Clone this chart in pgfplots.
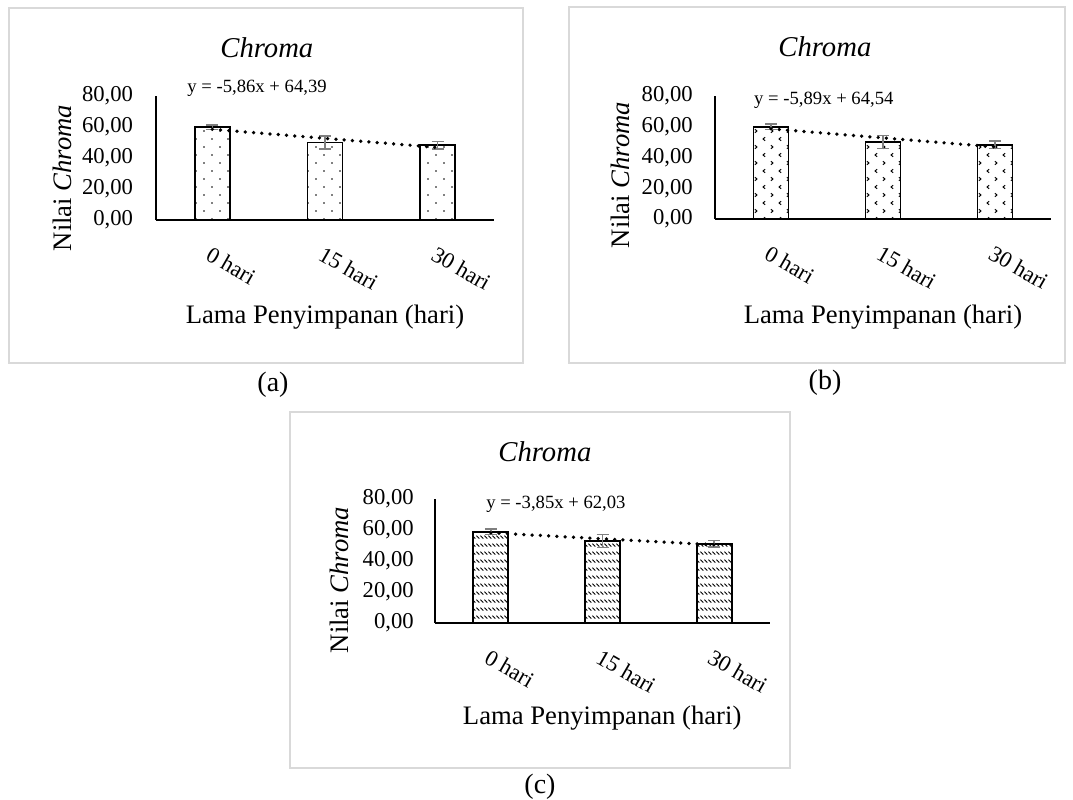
\documentclass[border=0pt]{standalone}
\usepackage{fontspec}
\setmainfont{Liberation Serif}
\usepackage{pgfplots}
\pgfplotsset{compat=1.18}
\usetikzlibrary{patterns}

\definecolor{framegray}{HTML}{D9D9D9}
\definecolor{errgray}{HTML}{7F7F7F}

% bar fills
\pgfdeclarepatternformonly{sparsedots}{\pgfqpoint{-1pt}{-1pt}}{\pgfqpoint{13pt}{13pt}}{\pgfqpoint{12pt}{12pt}}{%
  \pgfpathcircle{\pgfqpoint{3pt}{3pt}}{0.7pt}%
  \pgfpathcircle{\pgfqpoint{9pt}{9pt}}{0.7pt}%
  \pgfusepath{fill}}
\pgfdeclarepatternformonly{chevrons}{\pgfqpoint{-1pt}{-1pt}}{\pgfqpoint{13pt}{13pt}}{\pgfqpoint{12pt}{12pt}}{%
  \pgfsetlinewidth{0.75pt}%
  \pgfpathmoveto{\pgfqpoint{2.2pt}{10.3pt}}\pgfpathlineto{\pgfqpoint{3.7pt}{9pt}}\pgfpathlineto{\pgfqpoint{2.2pt}{7.7pt}}%
  \pgfpathmoveto{\pgfqpoint{9.8pt}{4.3pt}}\pgfpathlineto{\pgfqpoint{8.3pt}{3pt}}\pgfpathlineto{\pgfqpoint{9.8pt}{1.7pt}}%
  \pgfusepath{stroke}}
\pgfdeclarepatternformonly{diagdash}{\pgfqpoint{-1pt}{-1pt}}{\pgfqpoint{4pt}{7pt}}{\pgfqpoint{3pt}{6pt}}{%
  \pgfsetlinewidth{0.6pt}%
  \pgfpathmoveto{\pgfqpoint{0.3pt}{5.5pt}}\pgfpathlineto{\pgfqpoint{2.5pt}{3.3pt}}%
  \pgfusepath{stroke}}

\pgfplotsset{
  panel/.style={
    scale only axis, anchor=south west, clip=false,
    xmin=-0.5, xmax=2.5, ymin=0, ymax=80,
    axis lines=left, axis line style={-, line width=1.7pt, black},
    xtick={0,1,2}, xticklabels={0 hari,15 hari,30 hari},
    ytick={0,20,40,60,80},
    major tick length=0pt, xtick style={draw=none}, ytick style={draw=none},
    tick label style={font=\fontsize{17}{17}\selectfont},
    yticklabel style={anchor=east, inner sep=0pt},
    y tick label style={/pgf/number format/.cd, fixed, fixed zerofill, precision=2, use comma, assume math mode=true},
    xticklabel style={rotate=-30, anchor=north west, inner sep=0pt},
    xticklabel shift=19pt,
    title={\itshape Chroma},
    xlabel={Lama Penyimpanan (hari)},
    ylabel={Nilai \textit{Chroma}},
  },
  bars/.style={ybar, bar width=26.25pt, bar shift=0pt, draw=black, line width=1.4pt,
    pattern=#1, pattern color=black,
    error bars/.cd, y dir=both, y explicit,
    error bar style={line width=1.1pt, color=errgray},
    error mark options={rotate=90, mark size=4.5pt, line width=1.1pt, color=errgray}},
  trend/.style={sharp plot, mark=none, black, line width=2.8pt, dash pattern=on 0pt off 6.2pt, line cap=round},
}

\begin{document}
\begin{tikzpicture}
\path[use as bounding box] (0,0) rectangle (804.75pt,-599.25pt);

% frames
\draw[framegray, line width=1.5pt] (6.75pt,-6pt) rectangle (392.25pt,-272.25pt);
\draw[framegray, line width=1.5pt] (426.75pt,-5.25pt) rectangle (798.75pt,-272.25pt);
\draw[framegray, line width=1.5pt] (217.5pt,-309pt) rectangle (592.5pt,-576pt);

% (a)
\begin{axis}[panel, at={(117pt,-165pt)}, width=253.5pt, height=93pt,
  yticklabel shift=17pt,
  every axis title/.style={at={(axis description cs:0.328,1.387)}, anchor=center, font=\fontsize{21.5}{21.5}\selectfont},
  every axis x label/.style={at={(axis description cs:0.5,-0.782)}, anchor=center, font=\fontsize{20}{20}\selectfont},
  every axis y label/.style={at={(axis description cs:-0.278,0.339)}, rotate=90, anchor=center, font=\fontsize{20}{20}\selectfont}]
\addplot[bars=sparsedots] table[x=x, y=y, y error=e] {
x y e
0 59.9 1.5
1 50.0 4.2
2 48.2 2.4
};
\addplot[trend] coordinates {(0,58.53) (1,52.67) (2,46.81)};
\node[font=\fontsize{14}{14}\selectfont] at (rel axis cs:0.299,1.065) {y = -5,86x + 64,39};
\end{axis}

% (b)
\begin{axis}[panel, at={(536.25pt,-164.25pt)}, width=252pt, height=92.25pt,
  yticklabel shift=16.5pt,
  every axis title/.style={at={(axis description cs:0.327,1.398)}, anchor=center, font=\fontsize{21.5}{21.5}\selectfont},
  every axis x label/.style={at={(axis description cs:0.5,-0.797)}, anchor=center, font=\fontsize{20}{20}\selectfont},
  every axis y label/.style={at={(axis description cs:-0.283,0.358)}, rotate=90, anchor=center, font=\fontsize{20}{20}\selectfont}]
\addplot[bars=chevrons] table[x=x, y=y, y error=e] {
x y e
0 60.0 1.7
1 50.1 4.3
2 48.2 2.4
};
\addplot[trend] coordinates {(0,58.65) (1,52.76) (2,46.87)};
\node[font=\fontsize{14}{14}\selectfont] at (rel axis cs:0.324,0.967) {y = -5,89x + 64,54};
\end{axis}

% (c)
\begin{axis}[panel, at={(326.25pt,-467.25pt)}, width=251.25pt, height=93pt,
  yticklabel shift=15.75pt,
  every axis title/.style={at={(axis description cs:0.328,1.379)}, anchor=center, font=\fontsize{21.5}{21.5}\selectfont},
  every axis x label/.style={at={(axis description cs:0.499,-0.766)}, anchor=center, font=\fontsize{20}{20}\selectfont},
  every axis y label/.style={at={(axis description cs:-0.284,0.347)}, rotate=90, anchor=center, font=\fontsize{20}{20}\selectfont}]
\addplot[bars=diagdash] table[x=x, y=y, y error=e] {
x y e
0 58.9 1.7
1 52.9 4.3
2 51.2 2.1
};
\addplot[trend] coordinates {(0,58.18) (1,54.33) (2,50.48)};
\node[font=\fontsize{14}{14}\selectfont] at (rel axis cs:0.361,0.96) {y = -3,85x + 62,03};
\end{axis}

% captions
\node[font=\fontsize{21}{21}\selectfont] at (204.75pt,-288.75pt) {(a)};
\node[font=\fontsize{21}{21}\selectfont] at (618.75pt,-287.25pt) {(b)};
\node[font=\fontsize{21}{21}\selectfont] at (405pt,-590.25pt) {(c)};
\end{tikzpicture}
\end{document}
